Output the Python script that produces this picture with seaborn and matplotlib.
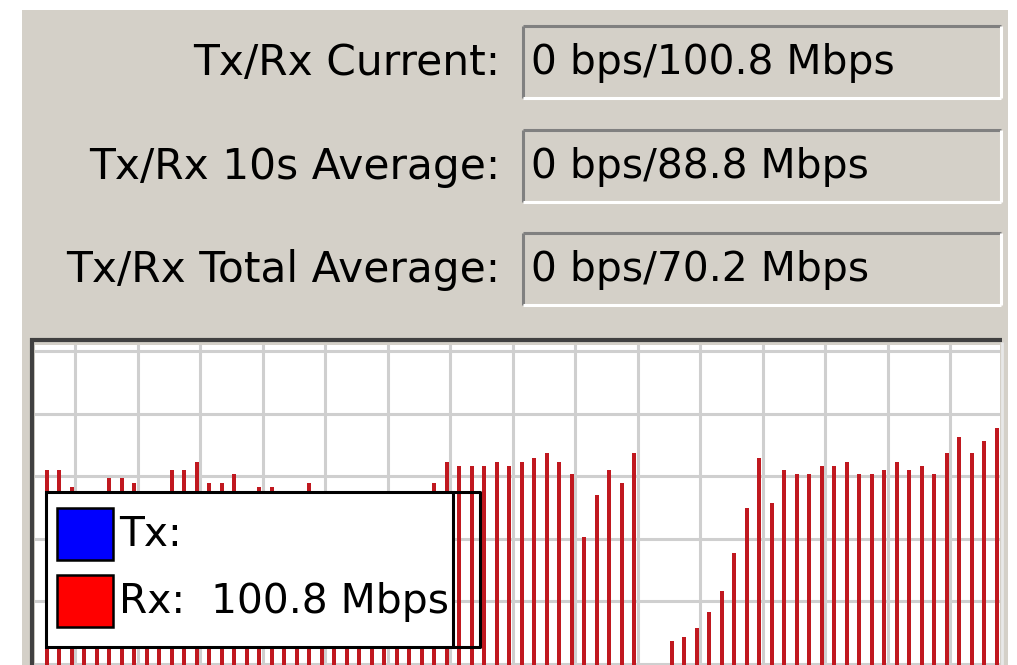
import matplotlib
matplotlib.use("Agg")
import matplotlib.pyplot as plt
from matplotlib.patches import Rectangle
import pandas as pd
import seaborn as sns

# readings shown above the graph
stat_labels = ["Tx/Rx Current:", "Tx/Rx 10s Average:", "Tx/Rx Total Average:"]
stat_values = ["0 bps/100.8 Mbps", "0 bps/88.8 Mbps", "0 bps/70.2 Mbps"]

legend_names = ["Tx:", "Rx:  100.8 Mbps"]
legend_colors = ["#0000ff", "#ff0000"]

# Rx samples in Mbps, oldest first (Tx is 0 all along)
rx_mbps = [
    82.9, 82.9, 75.7, 72.0, 71.0, 79.5, 79.5, 77.4, 72.5, 70.5,
    82.9, 82.9, 86.3, 77.4, 77.4, 81.2, 71.5, 75.7, 75.7, 72.0,
    70.0, 77.4, 71.0, 70.5, 72.5, 69.0, 71.5, 70.0, 72.0, 71.0,
    73.0, 77.4, 86.3, 84.6, 84.6, 84.6, 86.3, 84.6, 86.3, 88.0,
    90.2, 86.3, 81.2, 54.4, 72.3, 82.9, 77.4, 90.2, 0.0, 0.0,
    10.2, 11.9, 15.7, 22.5, 31.5, 47.6, 66.8, 88.0, 68.9, 82.9,
    81.2, 81.2, 84.6, 84.6, 86.3, 81.2, 81.2, 82.9, 86.3, 82.9,
    84.6, 81.2, 90.2, 97.0, 90.2, 95.3, 100.8,
]

W, H = 1017, 665
PANEL = "#d4d0c8"
LABEL_FONT = 30.5
VALUE_FONT = 29.3

fig = plt.figure(figsize=(W / 100, H / 100), dpi=100, facecolor="white")

# background layer in pixel coordinates (y down)
bg = fig.add_axes([0, 0, 1, 1], zorder=0)
bg.set_xlim(0, W)
bg.set_ylim(H, 0)
bg.axis("off")
bg.add_patch(Rectangle((22, 10), 986, 660, facecolor=PANEL, edgecolor="none"))

box_tops = [26, 130, 233]
for top, label, value in zip(box_tops, stat_labels, stat_values):
    x0, x1, y0, y1 = 523, 1001, top, top + 72
    bg.add_patch(Rectangle((x0, y0), x1 - x0, y1 - y0, facecolor=PANEL, edgecolor="none"))
    bg.plot([x0, x1], [y0, y0], color="#808080", lw=2.2, solid_capstyle="butt")
    bg.plot([x0, x0], [y0, y1], color="#808080", lw=2.2, solid_capstyle="butt")
    bg.plot([x0, x1], [y1, y1], color="#ffffff", lw=2.2, solid_capstyle="butt")
    bg.plot([x1, x1], [y0, y1], color="#ffffff", lw=2.2, solid_capstyle="butt")
    yc = (y0 + y1) / 2 + 1
    bg.text(500, yc, label, ha="right", va="center", fontsize=LABEL_FONT, color="black")
    bg.text(531, yc, value, ha="left", va="center", fontsize=VALUE_FONT, color="black")

# sunken frame around the graph
bg.plot([30, 1002], [340, 340], color="#404040", lw=3, solid_capstyle="butt")
bg.plot([32, 32], [338, H], color="#404040", lw=3, solid_capstyle="butt")
bg.plot([1002, 1002], [342, H], color="#e8e8e8", lw=2, solid_capstyle="butt")

# the graph itself
ax = fig.add_axes([35 / W, 0, 965 / W, 320 / H], zorder=1)
ax.set_facecolor("white")
df = pd.DataFrame({"sample": range(len(rx_mbps)), "rx": rx_mbps})
sns.barplot(data=df, x="sample", y="rx", color="#c0181f", saturation=1,
            width=0.32, errorbar=None, ax=ax)

px_per_sample = 12.5
mbps_per_px = 100.8 / 237
ax.set_xlim(-11.7 / px_per_sample, 953.3 / px_per_sample)
ax.set_ylim(0, 320 * mbps_per_px)
ax.set_xticks([(28.3 + 62.5 * k) / px_per_sample for k in range(15)])
ax.set_yticks([(1.5 + 62.5 * k) * mbps_per_px for k in range(6)])
ax.grid(True, color="#cfcfcf", lw=2.2)
ax.set_axisbelow(True)
ax.tick_params(length=0, labelbottom=False, labelleft=False)
ax.set_xlabel("")
ax.set_ylabel("")
for s in ax.spines.values():
    s.set_visible(False)

# legend box drawn over the graph
ov = fig.add_axes([0, 0, 1, 1], zorder=3)
ov.patch.set_visible(False)
ov.set_xlim(0, W)
ov.set_ylim(H, 0)
ov.axis("off")
ov.add_patch(Rectangle((46, 492), 407, 155, facecolor="white", edgecolor="black", lw=2.2))
ov.plot([453, 480, 480, 453], [492, 492, 647, 647], color="black", lw=2.2)
for i, (name, col) in enumerate(zip(legend_names, legend_colors)):
    y0 = 508 + 67 * i
    ov.add_patch(Rectangle((57, y0), 56, 52, facecolor=col, edgecolor="black", lw=1.8))
    ov.text(119, y0 + 27, name, ha="left", va="center", fontsize=VALUE_FONT, color="black")

fig.savefig("out.png", dpi=100, facecolor="white")
